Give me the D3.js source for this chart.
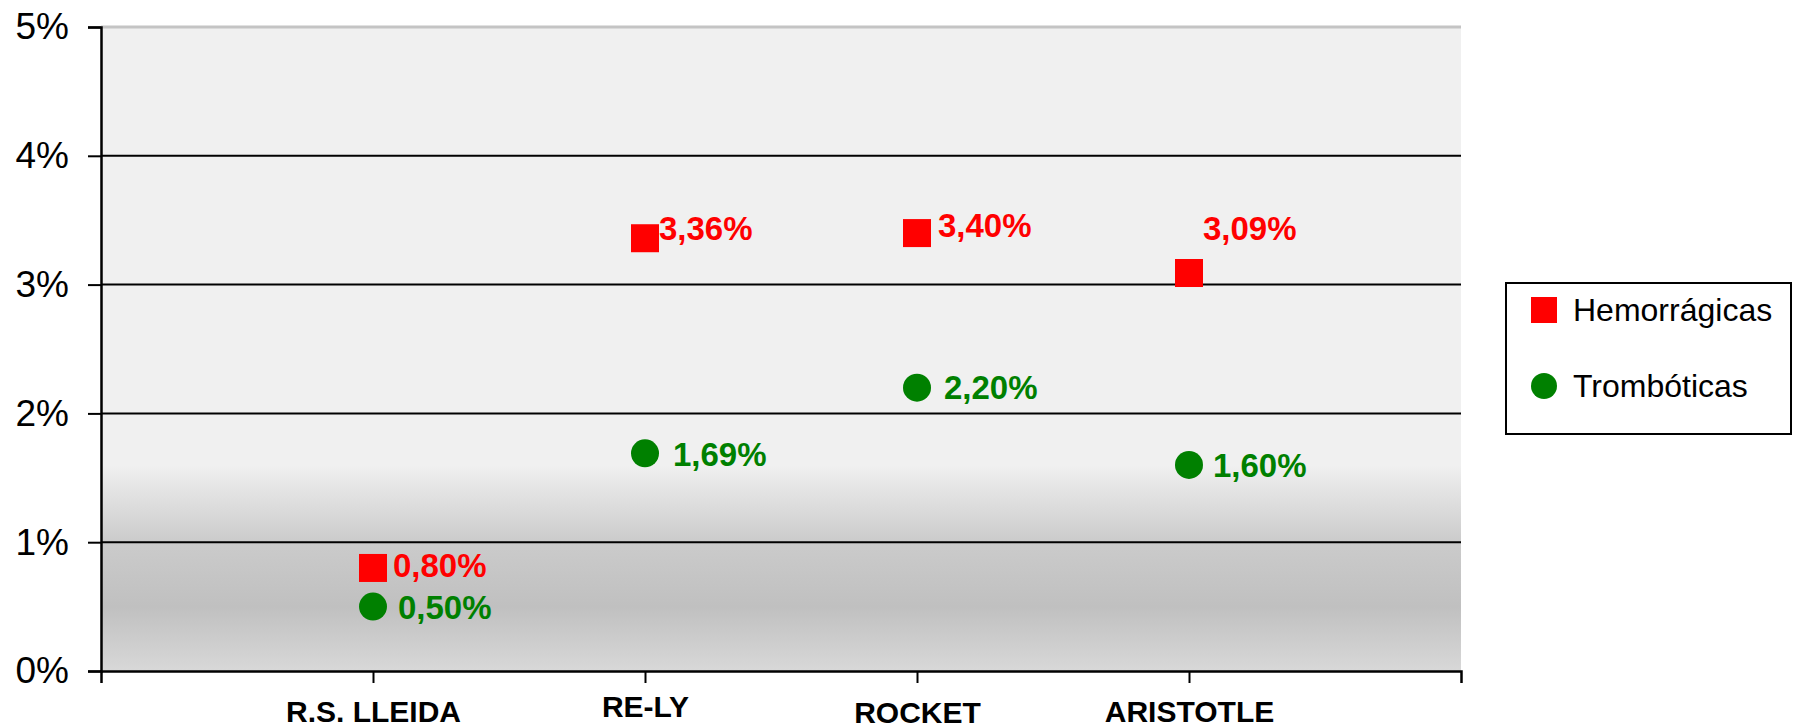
<!DOCTYPE html>
<html>
<head>
<meta charset="utf-8">
<script src="https://cdn.jsdelivr.net/npm/d3@7"></script>
<style>
  body { margin: 0; background: #fff; }
  svg { display: block; font-family: Arial, "Liberation Sans", sans-serif; }
</style>
</head>
<body>
<div id="chart"></div>
<script>
// data
const categories = ["R.S. LLEIDA", "RE-LY", "ROCKET", "ARISTOTLE"];
const hemorragicas = [0.80, 3.36, 3.40, 3.09];
const tromboticas = [0.50, 1.69, 2.20, 1.60];
const yTicks = [0, 1, 2, 3, 4, 5];
const seriesNames = ["Hemorrágicas", "Trombóticas"];

const W = 1793, H = 728;
const margin = {top:27, right:332, bottom:57, left:101};
const width = W - margin.left - margin.right;
const height = H - margin.top - margin.bottom;

// small nudges for the value labels (dx from point, dy from point)
const redLabelOffset = [[20,-3],[14,-10],[21,-8],[14,-45]];
const greenLabelOffset = [[25,1],[28,1],[27,0],[24,1]];
const catLabelDy = [-1,-6,0,-1];

const svg = d3.select("#chart").append("svg")
    .attr("width", W)
    .attr("height", H);

const defs = svg.append("defs");
const grad = defs.append("linearGradient")
    .attr("id","bg")
    .attr("x1",0).attr("y1",0).attr("x2",0).attr("y2",1);
grad.append("stop").attr("offset","0").attr("stop-color","#f0f0f0");
grad.append("stop").attr("offset","0.68").attr("stop-color","#f0f0f0");
grad.append("stop").attr("offset","0.80").attr("stop-color","#cbcbcb");
grad.append("stop").attr("offset","0.90").attr("stop-color","#c0c0c0");
grad.append("stop").attr("offset","1").attr("stop-color","#d8d8d8");

const chart = svg.append("g")
    .attr("transform","translate(" + margin.left + "," + margin.top + ")");

const x = d3.scalePoint()
    .domain(categories)
    .range([0, width])
    .padding(1);

const y = d3.scaleLinear()
    .domain([0, 5])
    .range([height, 0]);

// plot area
chart.append("rect")
    .attr("x",0).attr("y",0)
    .attr("width",width).attr("height",height)
    .attr("fill","url(#bg)");

chart.append("line")
    .attr("x1",0).attr("x2",width)
    .attr("y1",y(5)).attr("y2",y(5))
    .attr("stroke","#c4c4c4").attr("stroke-width",3);

// gridlines
chart.append("g")
    .selectAll("line")
    .data(yTicks.filter(d => d > 0 && d < 5))
    .enter().append("line")
    .attr("x1",0).attr("x2",width)
    .attr("y1",d => y(d)).attr("y2",d => y(d))
    .attr("stroke","#000").attr("stroke-width",2);

// y axis
const yAxis = chart.append("g")
    .call(d3.axisLeft(y).tickValues(yTicks).tickSize(13).tickPadding(19).tickFormat(d => d + "%"));
yAxis.select(".domain").attr("stroke","#000").attr("stroke-width",2.5);
yAxis.selectAll(".tick line").attr("stroke","#000").attr("stroke-width",2);
yAxis.selectAll("text").attr("font-size",37).attr("fill","#000")
    .attr("font-family","Arial, 'Liberation Sans', sans-serif");

// x axis
const xAxis = chart.append("g")
    .attr("transform","translate(0," + height + ")")
    .call(d3.axisBottom(x).tickSize(12).tickSizeOuter(12));
xAxis.select(".domain").attr("stroke","#000").attr("stroke-width",2.5);
xAxis.selectAll(".tick line").attr("stroke","#000").attr("stroke-width",2);
xAxis.selectAll("text")
    .attr("y", 52)
    .attr("dy", (d,i) => catLabelDy[i])
    .attr("font-size",30)
    .attr("font-weight","bold")
    .attr("fill","#000")
    .attr("font-family","Arial, 'Liberation Sans', sans-serif");

// points
const sq = 28;
chart.append("g")
    .selectAll("rect")
    .data(hemorragicas)
    .enter().append("rect")
    .attr("x",(d,i) => x(categories[i]) - sq/2)
    .attr("y",d => y(d) - sq/2)
    .attr("width",sq).attr("height",sq)
    .attr("fill","#ff0000");

chart.append("g")
    .selectAll("circle")
    .data(tromboticas)
    .enter().append("circle")
    .attr("cx",(d,i) => x(categories[i]))
    .attr("cy",d => y(d))
    .attr("r",14)
    .attr("fill","#008000");

const fmt = v => v.toFixed(2).replace(".", ",") + "%";

chart.append("g")
    .selectAll("text")
    .data(hemorragicas)
    .enter().append("text")
    .attr("x",(d,i) => x(categories[i]) + redLabelOffset[i][0])
    .attr("y",(d,i) => y(d) + redLabelOffset[i][1])
    .attr("dy","0.35em")
    .attr("font-size",33)
    .attr("font-weight","bold")
    .attr("fill","#ff0000")
    .text(fmt);

chart.append("g")
    .selectAll("text")
    .data(tromboticas)
    .enter().append("text")
    .attr("x",(d,i) => x(categories[i]) + greenLabelOffset[i][0])
    .attr("y",(d,i) => y(d) + greenLabelOffset[i][1])
    .attr("dy","0.35em")
    .attr("font-size",33)
    .attr("font-weight","bold")
    .attr("fill","#008000")
    .text(fmt);

// legend
const legend = svg.append("g").attr("transform","translate(1506,283)");
legend.append("rect")
    .attr("x",0).attr("y",0)
    .attr("width",285).attr("height",151)
    .attr("fill","#fff")
    .attr("stroke","#000").attr("stroke-width",2);

legend.append("rect")
    .attr("x",25).attr("y",14)
    .attr("width",26).attr("height",26)
    .attr("fill","#ff0000");
legend.append("circle")
    .attr("cx",38).attr("cy",103)
    .attr("r",13)
    .attr("fill","#008000");

legend.selectAll("text.lbl")
    .data(seriesNames)
    .enter().append("text")
    .attr("class","lbl")
    .attr("x",67)
    .attr("y",(d,i) => i === 0 ? 27 : 103)
    .attr("dy","0.35em")
    .attr("font-size",32)
    .attr("fill","#000")
    .text(d => d);
</script>
</body>
</html>
